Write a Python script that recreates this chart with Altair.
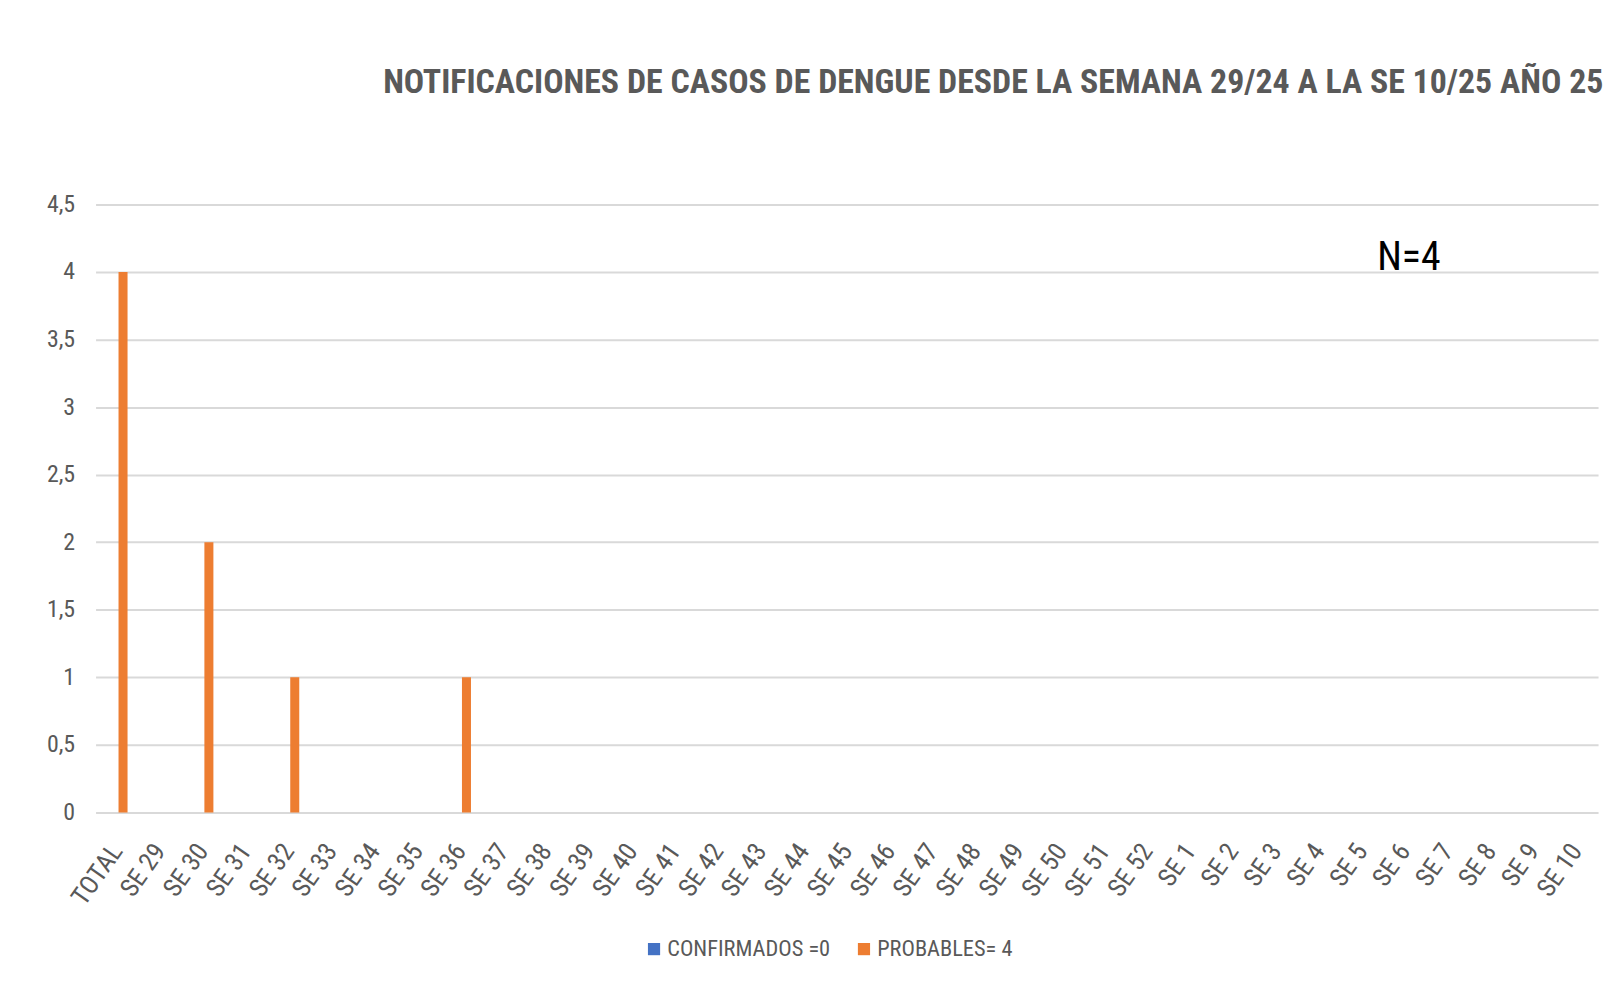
import altair as alt
import pandas as pd

categories = ["TOTAL", "SE 29", "SE 30", "SE 31", "SE 32", "SE 33", "SE 34", "SE 35", "SE 36",
              "SE 37", "SE 38", "SE 39", "SE 40", "SE 41", "SE 42", "SE 43", "SE 44", "SE 45",
              "SE 46", "SE 47", "SE 48", "SE 49", "SE 50", "SE 51", "SE 52", "SE 1", "SE 2",
              "SE 3", "SE 4", "SE 5", "SE 6", "SE 7", "SE 8", "SE 9", "SE 10"]
confirmados = [0, 0, 0, 0, 0, 0, 0, 0, 0, 0, 0, 0, 0, 0, 0, 0, 0, 0,
               0, 0, 0, 0, 0, 0, 0, 0, 0, 0, 0, 0, 0, 0, 0, 0, 0]
probables = [4, 0, 2, 0, 1, 0, 0, 0, 1, 0, 0, 0, 0, 0, 0, 0, 0, 0,
             0, 0, 0, 0, 0, 0, 0, 0, 0, 0, 0, 0, 0, 0, 0, 0, 0]
series = ["CONFIRMADOS =0", "PROBABLES= 4"]
colors = ["#4472C4", "#ED7D31"]
y_ticks = [0, 0.5, 1, 1.5, 2, 2.5, 3, 3.5, 4, 4.5]
title_text = "NOTIFICACIONES DE CASOS DE  DENGUE DESDE LA SEMANA 29/24 A LA SE 10/25 AÑO 25"
note_text = "N=4"
note_cat = "SE 6"
note_y = 4.1

rows = []
for c, a, b in zip(categories, confirmados, probables):
    rows.append({"semana": c, "serie": series[0], "casos": a})
    rows.append({"semana": c, "serie": series[1], "casos": b})
df = pd.DataFrame(rows)
note_df = pd.DataFrame({"semana": [note_cat], "casos": [note_y], "txt": [note_text]})

FONT = "Roboto Condensed, Liberation Sans Narrow, Liberation Sans, sans-serif"
GRAY = "#595959"

x_enc = alt.X("semana:N", sort=categories,
              scale=alt.Scale(paddingInner=0.51, paddingOuter=0.255),
              axis=alt.Axis(title=None, ticks=False, domain=False, labelAngle=-55,
                            labelAlign="right", labelBaseline="middle", labelPadding=34,
                            labelFont=FONT, labelFontSize=26, labelColor=GRAY,
                            labelOverlap=False))
y_enc = alt.Y("casos:Q", scale=alt.Scale(domain=[0, 4.5], nice=False),
              axis=alt.Axis(title=None, ticks=False, domain=False, values=y_ticks,
                            labelExpr="replace(format(datum.value, '~g'), '.', ',')",
                            gridColor="#D9D9D9", gridWidth=2, labelPadding=21,
                            labelFont=FONT, labelFontSize=24, labelColor=GRAY))

bars = alt.Chart(df).mark_bar().encode(
    x=x_enc,
    y=y_enc,
    xOffset=alt.XOffset("serie:N", sort=series, scale=alt.Scale(paddingInner=0.25)),
    color=alt.Color("serie:N", sort=series,
                    scale=alt.Scale(domain=series, range=colors),
                    legend=alt.Legend(title=None, orient="none", legendX=550, legendY=737,
                                      direction="horizontal", symbolType="square",
                                      symbolSize=150, symbolStrokeWidth=0, labelLimit=0,
                                      labelFont=FONT, labelFontSize=22.5, labelColor=GRAY,
                                      columnPadding=22, labelOffset=2)),
)

note = alt.Chart(note_df).mark_text(font=FONT, fontSize=40, color="#000000", dx=4,
                                    align="center", baseline="middle").encode(
    x=alt.X("semana:N", sort=categories),
    y=alt.Y("casos:Q"),
    text="txt:N",
)

chart = alt.layer(bars, note).properties(
    width=1510, height=611,
    autosize=alt.AutoSizeParams(type="none"),
    padding={"left": 88, "top": 195, "right": 13, "bottom": 172},
    background="white",
    title=alt.TitleParams(title_text, anchor="start", frame="group", dx=289, offset=66,
                          baseline="alphabetic", font=FONT, fontSize=34, fontWeight="bold",
                          color=GRAY),
).configure_view(stroke=None)

chart.save("out.html", embed_options={"renderer": "svg", "actions": False})
